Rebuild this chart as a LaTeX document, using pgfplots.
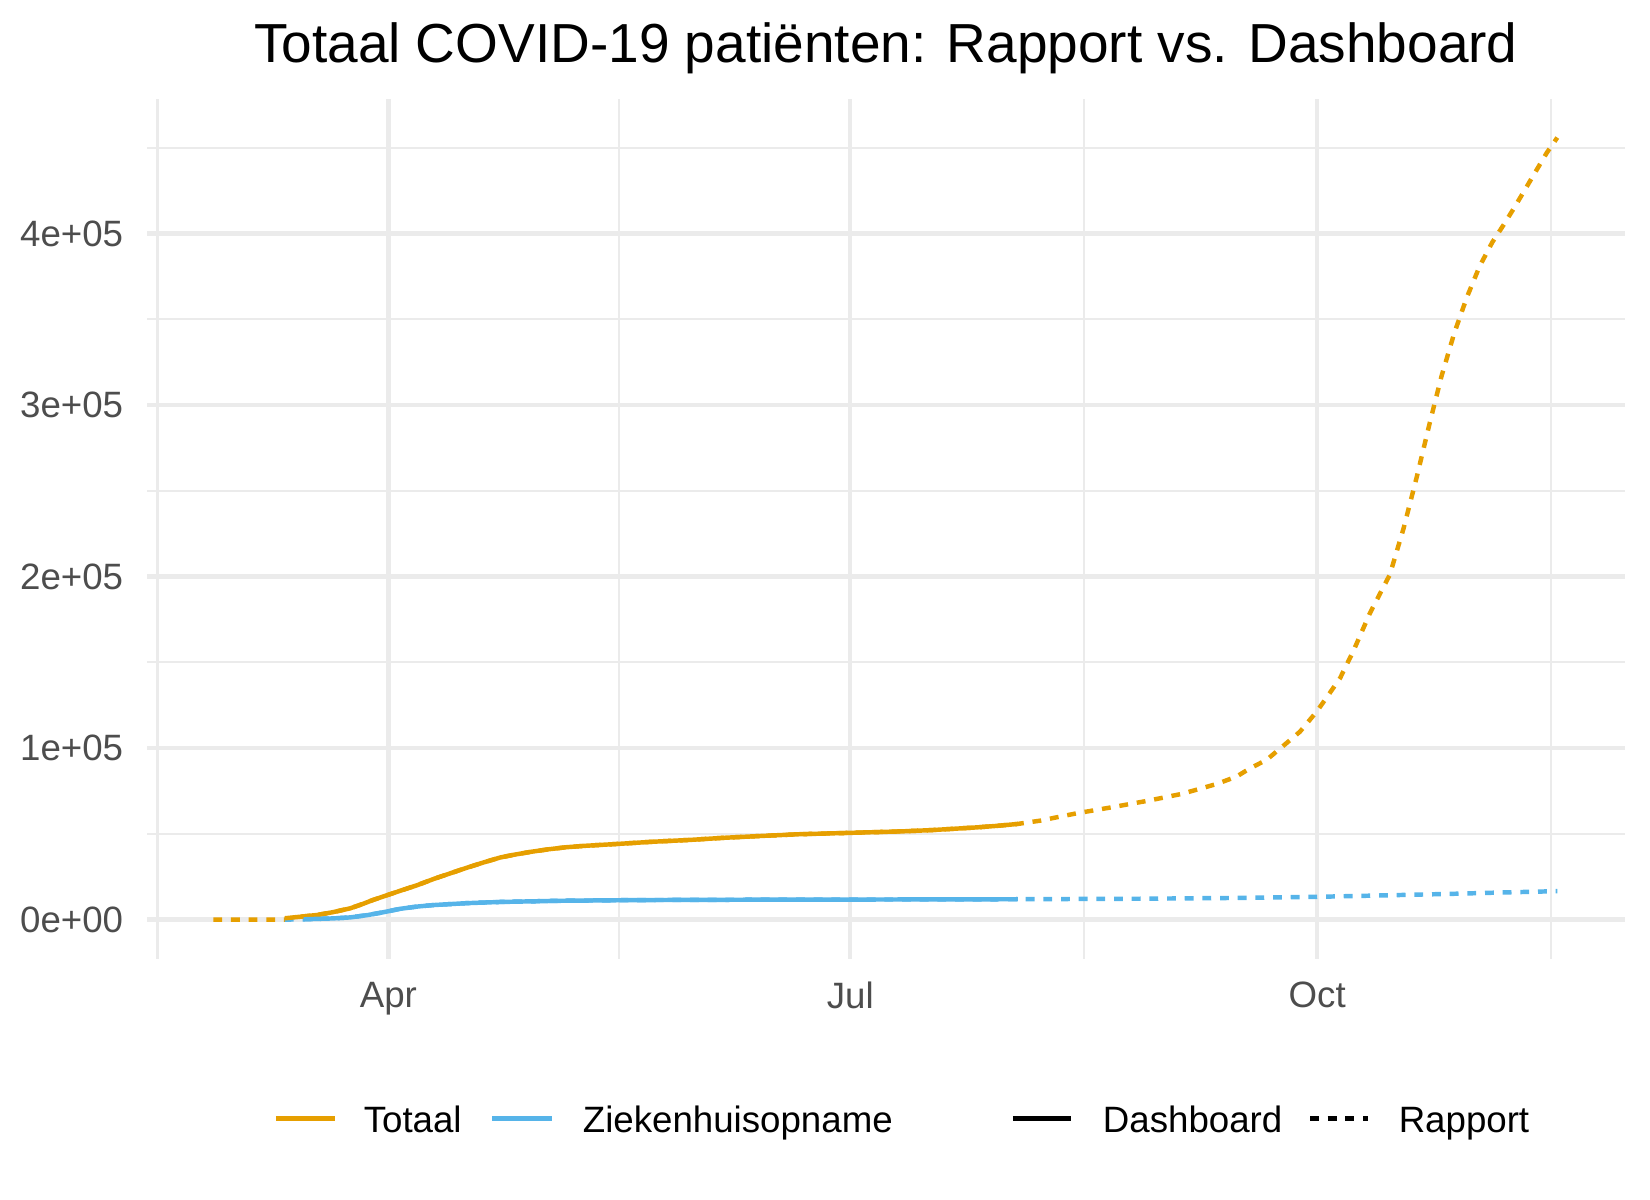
\documentclass[border=0pt]{standalone}
\usepackage{fontspec}
\setmainfont{Liberation Sans}
\usepackage{pgfplots}
\usepackage{pgfplotstable}
\pgfplotsset{compat=1.18}
\definecolor{cOr}{HTML}{E69F00}
\definecolor{cBl}{HTML}{56B4E9}
\definecolor{grid92}{HTML}{EBEBEB}
\definecolor{gray30}{HTML}{4D4D4D}

% day of year 2020 (Jan 1 = 0)
\pgfplotstableread{
day val
70.6 800
73 1500
76.9 2700
80 4300
83.5 6600
86 9200
88 11500
90.7 14200
93.5 17000
96.6 20000
100 23800
103.2 27000
106.4 30200
109.7 33300
113 36200
115.5 37700
119 39500
122.5 41000
126 42200
129.5 43000
136.5 44200
143 45400
150.5 46500
157 47700
164.5 48800
172 49800
182 50600
192.5 51500
198 52200
202 52900
207 53800
211 54700
215 55800
}\totdash

\pgfplotstableread{
day val
56.5 0
60 0
65 0
70.6 0
73 1500
76.9 2700
80 4300
83.5 6600
86 9200
88 11500
90.7 14200
93.5 17000
96.6 20000
100 23800
103.2 27000
106.4 30200
109.7 33300
113 36200
115.5 37700
119 39500
122.5 41000
126 42200
129.5 43000
136.5 44200
143 45400
150.5 46500
157 47700
164.5 48800
172 49800
182 50600
192.5 51500
198 52200
202 52900
207 53800
211 54700
215 55800
219.4 57700
226.6 62000
233.5 65500
240.4 69200
247.3 73300
254.2 79100
258.1 83400
260.8 88300
264.0 93100
267.3 101300
270.6 109600
273.9 121300
275.9 129700
278.5 140800
281.1 156500
284.4 178800
288.3 201100
291.0 228000
293.6 258000
296.2 290000
298.5 317000
301.0 342000
303.5 363000
306.0 381000
308.5 395000
310.7 405000
313.0 416000
316.0 431000
319.2 447000
321.3 456000
}\totrap

\pgfplotstableread{
day val
74.3 200
80 700
83.5 1300
87 2700
90 4300
93.3 6300
96.6 7600
99.9 8500
106.4 9600
113 10300
125 11000
140 11400
160 11600
182 11700
200 11800
215 11900
}\zhdash

\pgfplotstableread{
day val
70.6 0
74.3 200
80 700
83.5 1300
87 2700
90 4300
93.3 6300
96.6 7600
99.9 8500
106.4 9600
113 10300
125 11000
140 11400
160 11600
182 11700
200 11800
215 11900
240 12200
260 12700
274 13300
285 14000
300 15000
310 15800
321.3 16600
}\zhrap

\begin{document}
\begin{tikzpicture}
\path[use as bounding box] (0,0) rectangle (396pt,288pt);
\begin{axis}[
  at={(35.35pt,57.94pt)}, anchor=south west,
  scale only axis, width=354.6pt, height=206.3pt,
  xmin=43.5, xmax=334.6, ymin=-22700, ymax=478500,
  enlargelimits=false,
  axis line style={draw=none},
  tick style={draw=none},
  major tick length=0pt, minor tick length=0pt,
  xtick={91,182,274}, xticklabels={Apr,Jul,Oct},
  minor xtick={45.5,136.5,228,320},
  ytick={0,100000,200000,300000,400000},
  yticklabels={0e+00,1e+05,2e+05,3e+05,4e+05},
  minor ytick={50000,150000,250000,350000,450000},
  scaled y ticks=false,
  grid=both,
  major grid style={draw=grid92, line width=1.07pt},
  minor grid style={draw=grid92, line width=0.53pt},
  tick label style={font=\fontsize{8.8}{10}\selectfont, text=gray30, inner sep=0pt},
  yticklabel style={anchor=east, xshift=-5.6pt},
  xticklabel style={anchor=north, yshift=-5.4pt},
]
\addplot[cOr, line width=1.07pt, line join=round, dash pattern=on 2.12pt off 2.12pt] table[x=day,y=val] {\totrap};
\addplot[cBl, line width=1.07pt, line join=round, dash pattern=on 2.12pt off 2.12pt] table[x=day,y=val] {\zhrap};
\addplot[cOr, line width=1.07pt, line join=round, solid] table[x=day,y=val] {\totdash};
\addplot[cBl, line width=1.07pt, line join=round, solid] table[x=day,y=val] {\zhdash};
\end{axis}
\node[anchor=base, inner sep=0pt, font=\fontsize{13.2}{16}\selectfont] at (212.6pt,273pt) {Totaal COVID-19 patiënten: Rapport vs. Dashboard};
% legend
\draw[cOr, line width=1.07pt] (66.2pt,19.6pt) -- (80.4pt,19.6pt);
\node[anchor=base west, inner sep=0pt, font=\fontsize{8.8}{10}\selectfont] at (87.1pt,16.25pt) {Totaal};
\draw[cBl, line width=1.07pt] (118.1pt,19.6pt) -- (132.5pt,19.6pt);
\node[anchor=base west, inner sep=0pt, font=\fontsize{8.8}{10}\selectfont] at (139.7pt,16.25pt) {Ziekenhuisopname};
\draw[black, line width=1.07pt] (243.1pt,19.6pt) -- (257pt,19.6pt);
\node[anchor=base west, inner sep=0pt, font=\fontsize{8.8}{10}\selectfont] at (264.5pt,16.25pt) {Dashboard};
\draw[black, line width=1.07pt, dash pattern=on 2.12pt off 2.12pt] (314.4pt,19.6pt) -- (328.3pt,19.6pt);
\node[anchor=base west, inner sep=0pt, font=\fontsize{8.8}{10}\selectfont] at (335.5pt,16.25pt) {Rapport};
\end{tikzpicture}
\end{document}
